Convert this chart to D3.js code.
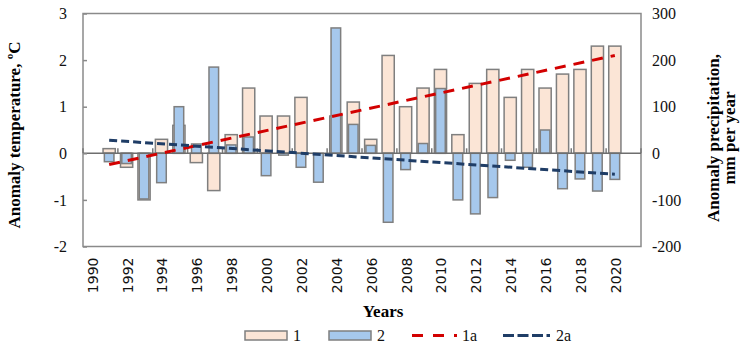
<!DOCTYPE html>
<html>
<head>
<meta charset="utf-8">
<script src="https://cdn.jsdelivr.net/npm/d3@7"></script>
<style>
  body { margin: 0; background: #fff; }
  svg { display: block; }
</style>
</head>
<body>
<div id="chart"></div>
<script>
// Temperature (1) and precipitation (2) anomalies with linear trends (1a, 2a)
const width = 746, height = 352;
const plot = {left: 83, right: 641, top: 13.5, bottom: 246.5};
const serif = "'Liberation Serif', 'Times New Roman', serif";

// categories on the year axis (one slot each), labelled every second year
const categories = [1990, 1991, 1992, 1993, 1994, 1995, 1996, 1997, 1998, 1999, 2000,
  2001, 2002, 2003, 2004, 2005, 2006, 2007, 2008, 2009, 2010, 2011, 2012, 2013, 2014,
  2015, 2016, 2017, 2018, 2019, 2020, 2021];
const tickYears = [1990, 1992, 1994, 1996, 1998, 2000, 2002, 2004, 2006, 2008, 2010,
  2012, 2014, 2016, 2018, 2020];

const years = [1991, 1992, 1993, 1994, 1995, 1996, 1997, 1998, 1999, 2000, 2001, 2002,
  2003, 2004, 2005, 2006, 2007, 2008, 2009, 2010, 2011, 2012, 2013, 2014, 2015, 2016,
  2017, 2018, 2019, 2020];
// 1: anomaly temperature, °C (left axis)
const tempAnom = [0.1, -0.3, -1.0, 0.3, 0.6, -0.2, -0.8, 0.4, 1.4, 0.8, 0.8, 1.2,
  0, 0.8, 1.1, 0.3, 2.1, 1.0, 1.4, 1.8, 0.4, 1.5, 1.8, 1.2, 1.8, 1.4, 1.7, 1.8, 2.3, 2.3];
// 2: anomaly precipitation, mm per year (right axis)
const precAnom = [-18, -22, -98, -63, 100, 20, 185, 18, 35, -48, -4, -30,
  -62, 269, 62, 17, -148, -35, 21, 139, -100, -130, -95, -15, -30, 50, -76, -55, -81, -56];
// trend lines (start and end years)
const trendTemp = [[1991, -0.24], [2020, 2.1]];
const trendPrec = [[1991, 28], [2020, -45]];

const leftTicks = [-2, -1, 0, 1, 2, 3];
const rightTicks = [-200, -100, 0, 100, 200, 300];

const svg = d3.select("#chart").append("svg")
  .attr("width", width).attr("height", height).attr("viewBox", `0 0 ${width} ${height}`);

const xCat = d3.scaleBand().domain(categories).range([plot.left, plot.right]);
const xPink = d3.scaleBand().domain(categories).range([plot.left, plot.right])
  .paddingInner(0.3).paddingOuter(0.15);
const xBlue = d3.scaleBand().domain(categories).range([plot.left, plot.right])
  .paddingInner(0.45).paddingOuter(0.225);
const yT = d3.scaleLinear().domain([-2, 3]).range([plot.bottom, plot.top]);
const yP = d3.scaleLinear().domain([-200, 300]).range([plot.bottom, plot.top]);
const mid = d => xCat(d) + xCat.bandwidth() / 2;

// plot border
svg.append("rect").attr("x", plot.left).attr("y", plot.top)
  .attr("width", plot.right - plot.left).attr("height", plot.bottom - plot.top)
  .attr("fill", "none").attr("stroke", "#8a8a8a").attr("stroke-width", 1.5);

// small tick marks on the zero line, every 2 categories
const boundaries = tickYears.map(d => xCat(d)).concat([plot.right]);
svg.append("g").selectAll("line").data(boundaries).join("line")
  .attr("x1", d => d).attr("x2", d => d)
  .attr("y1", yT(0) - 5).attr("y2", yT(0))
  .attr("stroke", "#7a7a7a").attr("stroke-width", 1.5);

const bars = years.map((y, i) => ({year: y, t: tempAnom[i], p: precAnom[i]}));

svg.append("g").selectAll("rect").data(bars).join("rect")
  .attr("x", d => xPink(d.year))
  .attr("y", d => yT(Math.max(0, d.t)))
  .attr("width", xPink.bandwidth())
  .attr("height", d => Math.abs(yT(d.t) - yT(0)))
  .attr("fill", "#fbe5d6").attr("stroke", "#7f7f7f").attr("stroke-width", 1.5);

svg.append("g").selectAll("rect").data(bars).join("rect")
  .attr("x", d => xBlue(d.year))
  .attr("y", d => yP(Math.max(0, d.p)))
  .attr("width", xBlue.bandwidth())
  .attr("height", d => Math.abs(yP(d.p) - yP(0)))
  .attr("fill", "#a6c8ec").attr("stroke", "#7f7f7f").attr("stroke-width", 1.5);

// zero line
svg.append("line").attr("x1", plot.left).attr("x2", plot.right)
  .attr("y1", yT(0)).attr("y2", yT(0))
  .attr("stroke", "#6e6e6e").attr("stroke-width", 1.5);

// trend lines
svg.append("path").datum(trendTemp)
  .attr("d", d3.line().x(d => mid(d[0])).y(d => yT(d[1])))
  .attr("fill", "none").attr("stroke", "#d20000").attr("stroke-width", 3)
  .attr("stroke-dasharray", "11,8");
svg.append("path").datum(trendPrec)
  .attr("d", d3.line().x(d => mid(d[0])).y(d => yP(d[1])))
  .attr("fill", "none").attr("stroke", "#1f3d66").attr("stroke-width", 3)
  .attr("stroke-dasharray", "8,4");

// left axis
const gL = svg.append("g").attr("transform", `translate(${plot.left},0)`)
  .call(d3.axisLeft(yT).tickValues(leftTicks).tickSize(-4).tickPadding(16)
    .tickFormat(d => String(d)));
gL.select(".domain").remove();
gL.selectAll("line").attr("stroke", "#8a8a8a").attr("stroke-width", 1.5);
gL.selectAll("text").attr("font-family", serif).attr("font-size", 16).attr("fill", "#111");

// right axis
const gR = svg.append("g").attr("transform", `translate(${plot.right},0)`)
  .call(d3.axisRight(yP).tickValues(rightTicks).tickSize(0).tickPadding(11)
    .tickFormat(d => String(d)));
gR.select(".domain").remove();
gR.selectAll("text").attr("font-family", serif).attr("font-size", 16).attr("fill", "#111");

// year labels, rotated
const gX = svg.append("g").attr("transform", `translate(1,${plot.bottom})`)
  .call(d3.axisBottom(xCat).tickValues(tickYears).tickSize(0));
gX.select(".domain").remove();
gX.selectAll("text")
  .attr("transform", "rotate(-90)").attr("x", -11).attr("y", 0).attr("dy", "0.35em")
  .attr("text-anchor", "end")
  .attr("font-family", "'DejaVu Sans', sans-serif").attr("font-size", 14).attr("fill", "#111");

// axis titles
svg.append("text").attr("transform", "translate(19.5,135) rotate(-90)")
  .attr("text-anchor", "middle").attr("font-family", serif).attr("font-size", 17)
  .attr("font-weight", "bold").text("Anomaly temperature, ºC");

const rt = svg.append("text").attr("transform", "translate(719,138) rotate(-90)")
  .attr("text-anchor", "middle").attr("font-family", serif).attr("font-size", 17)
  .attr("font-weight", "bold");
rt.append("tspan").attr("x", 0).attr("dy", 0).text("Anomaly precipitation,");
rt.append("tspan").attr("x", 0).attr("dy", 16).text("mm per year");

svg.append("text").attr("x", 383).attr("y", 317).attr("text-anchor", "middle")
  .attr("font-family", serif).attr("font-size", 17).attr("font-weight", "bold")
  .text("Years");

// legend
const legendY = 331;
const legend = svg.append("g");
legend.append("rect").attr("x", 245).attr("y", legendY).attr("width", 42).attr("height", 9)
  .attr("fill", "#fbe5d6").attr("stroke", "#7f7f7f").attr("stroke-width", 1.5);
legend.append("rect").attr("x", 329).attr("y", legendY).attr("width", 42).attr("height", 9)
  .attr("fill", "#a6c8ec").attr("stroke", "#7f7f7f").attr("stroke-width", 1.5);
legend.append("line").attr("x1", 412).attr("x2", 457).attr("y1", legendY + 4.5).attr("y2", legendY + 4.5)
  .attr("stroke", "#d20000").attr("stroke-width", 3).attr("stroke-dasharray", "11,10");
legend.append("line").attr("x1", 503).attr("x2", 550).attr("y1", legendY + 4.5).attr("y2", legendY + 4.5)
  .attr("stroke", "#1f3d66").attr("stroke-width", 3).attr("stroke-dasharray", "11,3.5");
[["1", 293], ["2", 377], ["1a", 462], ["2a", 556]].forEach(([t, x]) => {
  legend.append("text").attr("x", x).attr("y", legendY + 10)
    .attr("font-family", serif).attr("font-size", 16).attr("fill", "#111").text(t);
});
</script>
</body>
</html>
